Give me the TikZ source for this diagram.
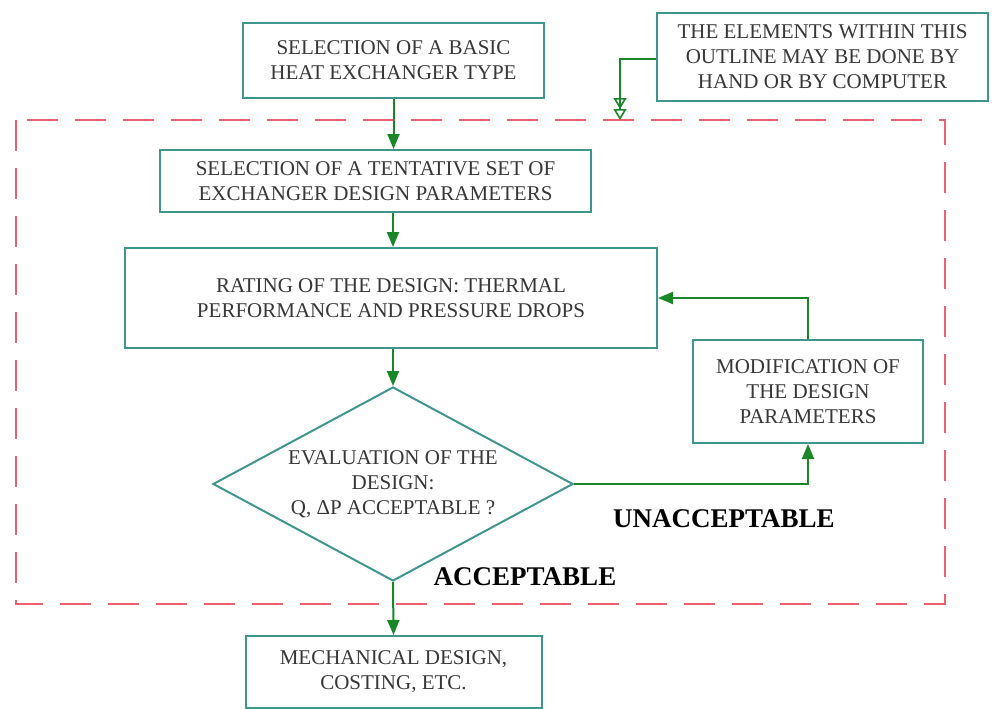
\documentclass[tikz,border=0pt]{standalone}
\usepackage{fontspec}
\setmainfont{Liberation Serif}
\usetikzlibrary{shapes.geometric,arrows.meta}

\definecolor{boxline}{RGB}{62,150,140}
\definecolor{flowline}{RGB}{25,135,40}
\definecolor{outlinered}{RGB}{238,96,110}
\definecolor{textgray}{RGB}{55,55,55}

\tikzset{
  stepbox/.style={draw=boxline, line width=2pt, fill=white, align=center,
    text=textgray, inner sep=0pt, font=\fontsize{21}{25}\selectfont},
  decision/.style={diamond, aspect=1.856, draw=boxline, line width=2pt, fill=white,
    align=center, text=textgray, inner sep=0pt, minimum width=360pt,
    minimum height=194pt, font=\fontsize{21}{25}\selectfont},
  flow/.style={draw=flowline, line width=2pt, -{Triangle[length=15pt,width=12pt]}},
  noteflow/.style={draw=flowline, line width=1.6pt,
    -{Triangle[open,length=11pt,width=13pt] Triangle[open,length=11pt,width=13pt]}},
  verdict/.style={text=black, font=\fontsize{27}{30}\selectfont\bfseries}
}

\begin{document}
\begin{tikzpicture}[x=1pt,y=-1pt]
\useasboundingbox (0,0) rectangle (993,709);

% draw the dashed outline
\draw[outlinered, line width=2.4pt, dash pattern=on 31pt off 17pt] (16,120) rectangle (945,604);

% draw nodes of the flow
\node[stepbox, minimum width=301pt, minimum height=75pt] (basic) at (393.5,60.5)
  {SELECTION OF A BASIC \\ HEAT EXCHANGER TYPE};
\node[stepbox, minimum width=331pt, minimum height=88pt] (note) at (822.5,57)
  {THE ELEMENTS WITHIN THIS \\ OUTLINE MAY BE DONE BY \\ HAND OR BY COMPUTER};
\node[stepbox, minimum width=431pt, minimum height=62pt] (tentative) at (375.5,181)
  {SELECTION OF A TENTATIVE SET OF \\ EXCHANGER DESIGN PARAMETERS};
\node[stepbox, minimum width=532pt, minimum height=100pt] (rating) at (391,298)
  {RATING OF THE DESIGN: THERMAL \\ PERFORMANCE AND PRESSURE DROPS};
\node[decision] (evaluation) at (393,484)
  {EVALUATION OF THE \\ DESIGN: \\ Q, ΔP ACCEPTABLE ?};
\node[stepbox, minimum width=230pt, minimum height=103pt] (modification) at (808,391.5)
  {MODIFICATION OF \\ THE DESIGN \\ PARAMETERS};
\node[stepbox, minimum width=296pt, minimum height=72pt] (mechanical) at (393.5,672)
  {MECHANICAL DESIGN, \\ COSTING, ETC.};

% draw the labels
\node[verdict] (unacceptable) at (724,519) {UNACCEPTABLE};
\node[verdict] (acceptable) at (525,577) {ACCEPTABLE};

% draw the connectors
\coordinate (notetip) at (620,120);
\draw[noteflow] (note.west |- 0,59) -| (notetip);
\draw[flow] (basic.south) -- (basic.south |- tentative.north);
\draw[flow] (tentative.south -| evaluation.north) -- (rating.north -| evaluation.north);
\draw[flow] (rating.south -| evaluation.north) -- (evaluation.north);
\draw[flow] (evaluation.east) -| (modification.south);
\draw[flow] (modification.north) |- (rating.east);
\draw[flow] (evaluation.south) -- (mechanical.north);
\end{tikzpicture}
\end{document}
